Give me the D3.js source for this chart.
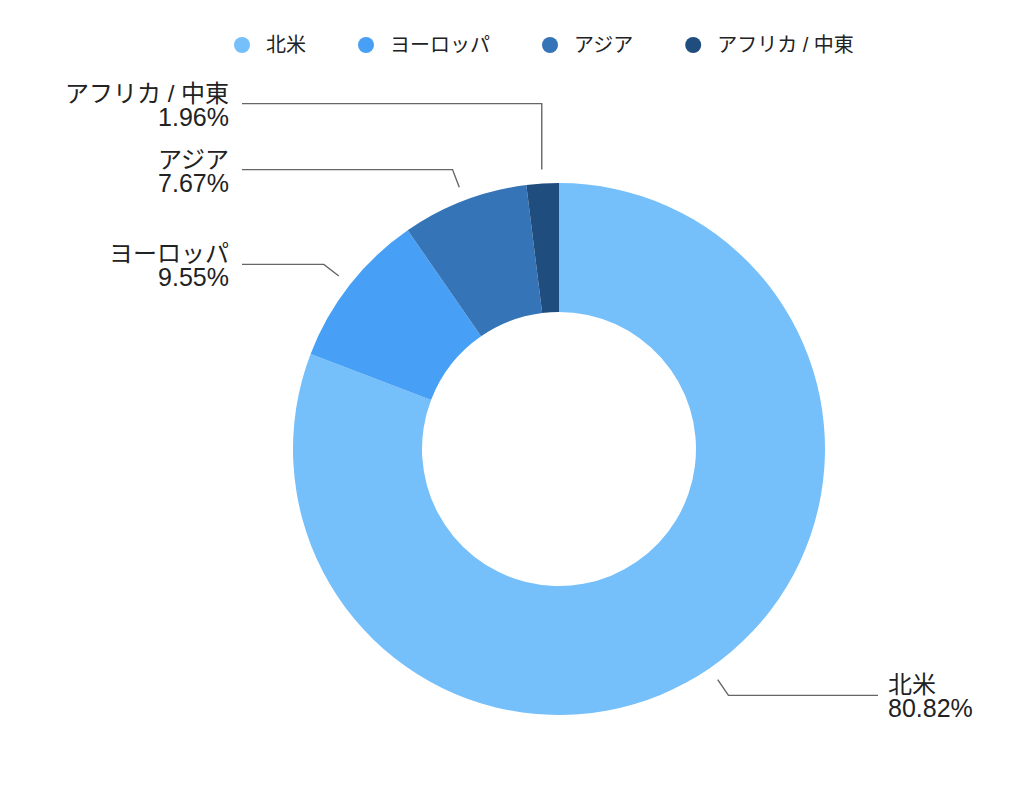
<!DOCTYPE html>
<html>
<head>
<meta charset="utf-8">
<script src="https://cdn.jsdelivr.net/npm/d3@7"></script>
<style>
  html, body { margin: 0; padding: 0; background: #fff; }
  svg { display: block; }
  text { font-family: "Liberation Sans", "Noto Sans CJK JP", sans-serif; fill: #222; }
</style>
</head>
<body>
<svg id="chart" width="1024" height="786"></svg>
<script>
const categories = ["北米", "ヨーロッパ", "アジア", "アフリカ / 中東"];
const values = [80.82, 9.55, 7.67, 1.96];
const labels = ["80.82%", "9.55%", "7.67%", "1.96%"];
const colors = ["#75bffa", "#48a0f6", "#3574b7", "#1e4d7e"];

const svg = d3.select("#chart");
const cx = 559, cy = 449, outerR = 266, innerR = 137;

const data = categories.map((c, i) => ({ name: c, value: values[i], label: labels[i], color: colors[i] }));

const pie = d3.pie().value(d => d.value).sort(null);
const arcs = pie(data);
const arcGen = d3.arc().innerRadius(innerR).outerRadius(outerR);

const g = svg.append("g").attr("transform", `translate(${cx},${cy})`);
g.selectAll("path.slice").data(arcs).enter().append("path")
  .attr("class", "slice")
  .attr("d", arcGen)
  .attr("fill", d => d.data.color);

// Leader lines & labels
const startR = 280, elbowR = 299;
const items = arcs.map(a => {
  const ang = (a.startAngle + a.endAngle) / 2;
  const sx = Math.sin(ang) * startR, sy = -Math.cos(ang) * startR;
  const ex = Math.sin(ang) * elbowR, ey = -Math.cos(ang) * elbowR;
  return { a, ang, sx, sy, ex, ey, left: Math.sin(ang) < 0 };
});
const minGap = 66;
const leftItems = items.filter(d => d.left).sort((p, q) => q.ey - p.ey);
let prevY = Infinity;
leftItems.forEach(d => {
  if (d.ey > prevY - minGap) d.ey = prevY - minGap;
  prevY = d.ey;
});
const rightItems = items.filter(d => !d.left).sort((p, q) => p.ey - q.ey);
prevY = -Infinity;
rightItems.forEach(d => {
  if (d.ey < prevY + minGap) d.ey = prevY + minGap;
  prevY = d.ey;
});

const lineEndLeft = 242 - cx, lineEndRight = 878 - cx;
const textLeft = 229 - cx, textRight = 888 - cx;

items.forEach(d => {
  let ex = d.ex;
  if (Math.abs(d.ex - d.sx) < 3) ex = d.sx;
  const endX = d.left ? lineEndLeft : lineEndRight;
  g.append("polyline")
    .attr("points", [[d.sx, d.sy], [ex, d.ey], [endX, d.ey]].map(p => p.join(",")).join(" "))
    .attr("fill", "none")
    .attr("stroke", "#666")
    .attr("stroke-width", 1.4);
  const tx = d.left ? textLeft : textRight;
  const anchor = d.left ? "end" : "start";
  g.append("text")
    .attr("x", tx).attr("y", d.ey - 2)
    .attr("text-anchor", anchor)
    .style("font-size", "24px")
    .text(d.a.data.name);
  g.append("text")
    .attr("x", tx).attr("y", d.ey + 22)
    .attr("text-anchor", anchor)
    .style("font-size", "25px")
    .text(d.a.data.label);
});

// Legend
const legend = svg.append("g");
const legendY = 45;
let lx = 242;
data.forEach(d => {
  const item = legend.append("g");
  item.append("circle").attr("cx", lx).attr("cy", legendY).attr("r", 8).attr("fill", d.color);
  const txt = item.append("text")
    .attr("x", lx + 24)
    .attr("y", legendY + 7)
    .style("font-size", "20px")
    .text(d.name);
  const w = txt.node().getComputedTextLength();
  lx = lx + 24 + w + 60;
});
</script>
</body>
</html>
